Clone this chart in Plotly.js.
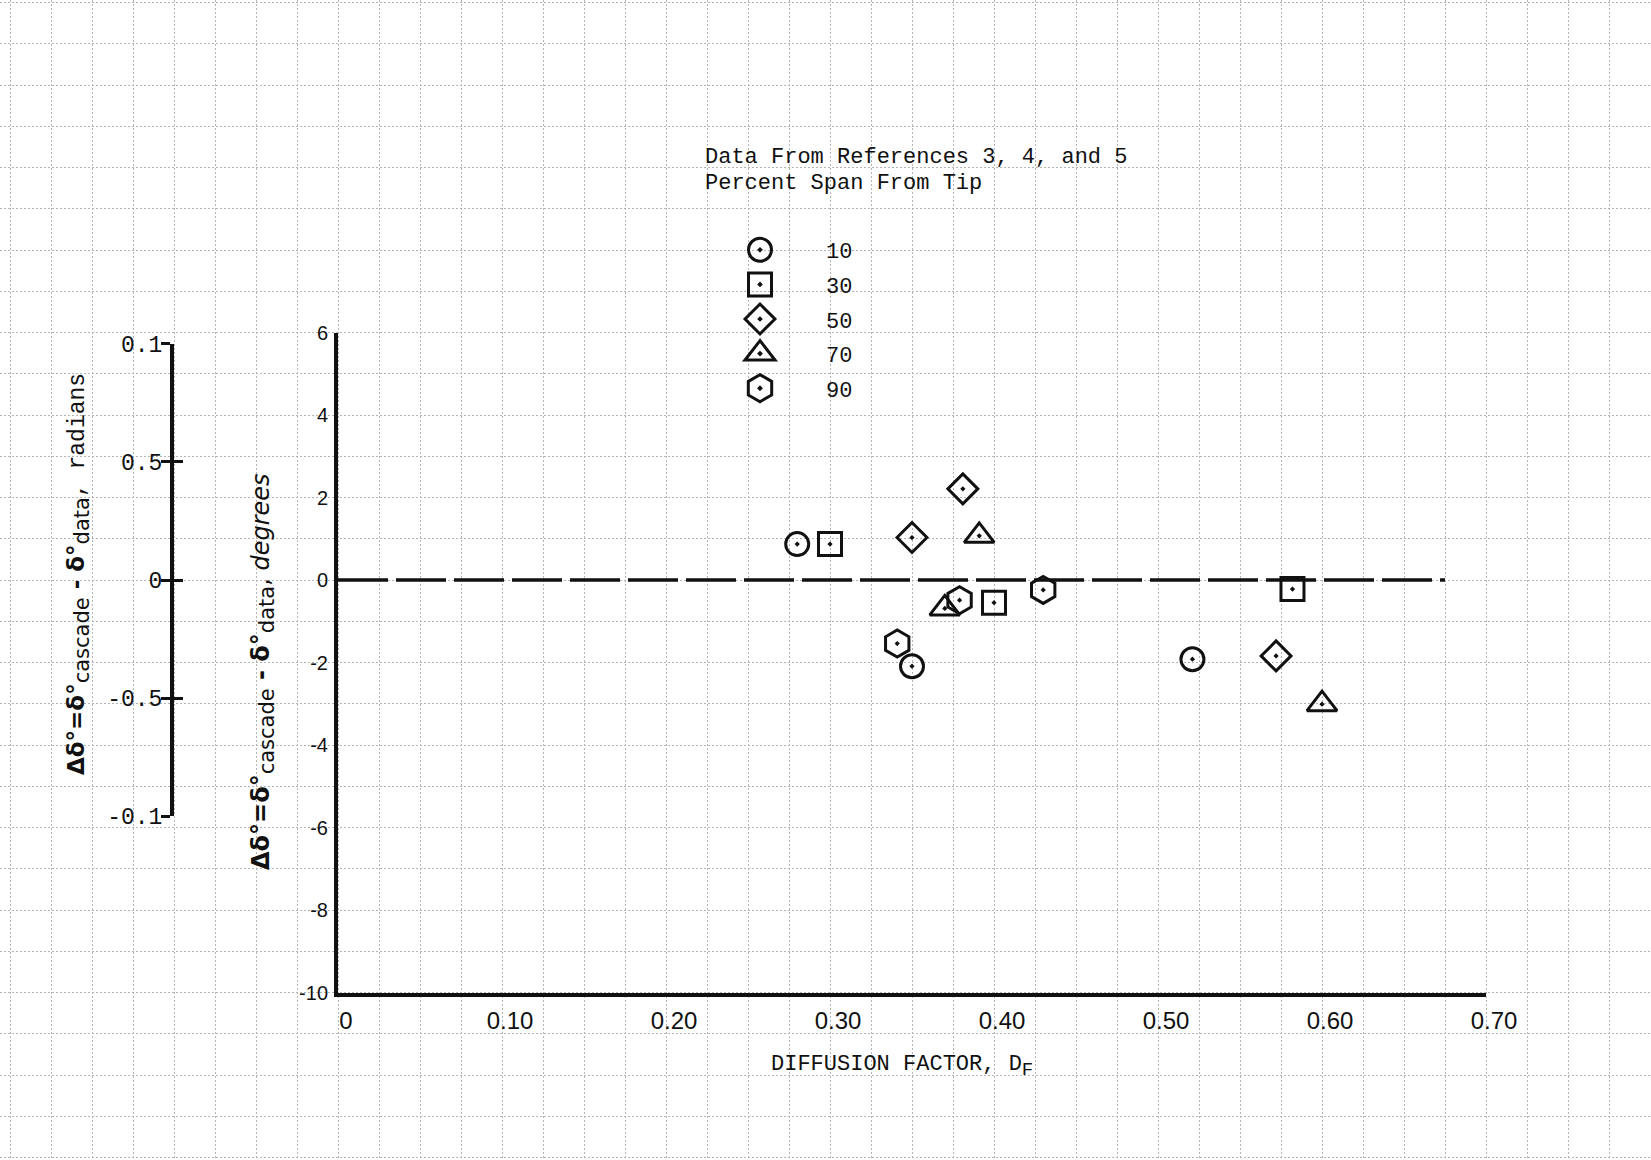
<!DOCTYPE html>
<html>
<head>
<meta charset="utf-8">
<script src="https://cdn.plot.ly/plotly-3.0.1.min.js"></script>
<style>
  html, body { margin: 0; padding: 0; background: #ffffff; }
  #chart { width: 1651px; height: 1160px; }
</style>
</head>
<body>
<div id="chart"></div>
<script>
// Deviation-angle difference (cascade minus measured) against diffusion factor,
// one marker series per radial station (percent span from tip).

const spanLabels  = ['10', '30', '50', '70', '90'];
const spanSymbols = ['circle-open-dot', 'square-open-dot', 'diamond-open-dot',
                     'triangle-up-open-dot', 'hexagon-open-dot'];

const diffusion10 = [0.280, 0.350, 0.521];
const deltaDeg10  = [0.87, -2.09, -1.92];

const diffusion30 = [0.300, 0.400, 0.582];
const deltaDeg30  = [0.87, -0.55, -0.22];

const diffusion50 = [0.350, 0.381, 0.572];
const deltaDeg50  = [1.03, 2.21, -1.84];

const diffusion70 = [0.391, 0.370, 0.600];
const deltaDeg70  = [1.07, -0.69, -3.01];

const diffusion90 = [0.379, 0.430, 0.341];
const deltaDeg90  = [-0.49, -0.24, -1.54];

// reference line at zero difference
const zeroLineX = [0, 0.675];
const zeroLineY = [0, 0];

// axis ticks
const xTickVals  = [0, 0.1, 0.2, 0.3, 0.4, 0.5, 0.6, 0.7];
const xTickText  = ['0', '0.10', '0.20', '0.30', '0.40', '0.50', '0.60', '0.70'];
const degTickVals = [-10, -8, -6, -4, -2, 0, 2, 4, 6];
const degTickText = ['-10', '-8', '-6', '-4', '-2', '0', '2', '4', '6'];
const radTickVals = [-0.1, -0.05, 0, 0.05, 0.1];
const radTickText = ['-0.1', '-0.5', '0', '0.5', '0.1'];

// ---------------------------------------------------------------------------
const W = 1651, H = 1160;
const px = v => v / W;            // horizontal pixel -> paper fraction
const py = v => 1 - v / H;        // vertical pixel (from top) -> paper fraction

// plot frame in pixels
const frameLeft = 338, frameRight = 1486, frameTop = 332.5, frameBottom = 992.5;
const xMax = 0.7, yMin = -10, yMax = 6;
const pxPerX = (frameRight - frameLeft) / xMax;
const pxPerY = (frameBottom - frameTop) / (yMax - yMin);
const zeroPx = frameTop + yMax * pxPerY;

// radians scale drawn beside the degrees scale
const radMax = 0.1, radToDeg = 180 / Math.PI;
const radTopPx = zeroPx - radMax * radToDeg * pxPerY;
const radBotPx = zeroPx + radMax * radToDeg * pxPerY;
const radAxisPx = 174;

const mono = 'Liberation Mono, DejaVu Sans Mono, monospace';
const sans = 'DejaVu Sans, Liberation Sans, sans-serif';

const seriesX = [diffusion10, diffusion30, diffusion50, diffusion70, diffusion90];
const seriesY = [deltaDeg10, deltaDeg30, deltaDeg50, deltaDeg70, deltaDeg90];
const markerSizes = [23, 23, 23, 26, 27];

const traces = [
  // graph-paper background subplot
  { x: [], y: [], type: 'scatter', mode: 'markers', xaxis: 'x', yaxis: 'y',
    showlegend: false, hoverinfo: 'skip' },
  // dashed zero line
  { x: zeroLineX, y: zeroLineY, type: 'scatter', mode: 'lines',
    xaxis: 'x2', yaxis: 'y2', showlegend: false, hoverinfo: 'skip',
    line: { color: '#111', width: 3.5, dash: '50px,8px' } }
];

spanLabels.forEach((lab, i) => {
  traces.push({
    x: seriesX[i], y: seriesY[i], type: 'scatter', mode: 'markers',
    xaxis: 'x2', yaxis: 'y2', name: lab, legendgroup: 'g' + lab,
    marker: { symbol: spanSymbols[i], size: markerSizes[i], color: '#111',
              line: { color: '#111', width: 3 } }
  });
});

// radians scale (two overlaid axes give ticks crossing the line)
traces.push({ x: [], y: [], type: 'scatter', xaxis: 'x3', yaxis: 'y3', showlegend: false, hoverinfo: 'skip' });
traces.push({ x: [], y: [], type: 'scatter', xaxis: 'x3', yaxis: 'y4', showlegend: false, hoverinfo: 'skip' });

const gridXRange = [-frameLeft / pxPerX, (W - frameLeft) / pxPerX];
const gridYRange = [(zeroPx - H) / pxPerY, zeroPx / pxPerY];

const sub = s => '<sub><span style="font-size:21px">' + s + '</span></sub>';
const titleDeg = '<b>Δδ°=δ°</b>' + sub('cascade') + '<b> - δ°</b>' + sub('data') +
                 ', <i>degrees</i>';
const titleRad = '<b>Δδ°=δ°</b>' + sub('cascade') + '<b> - δ°</b>' + sub('data') +
                 '<span style="font-family:Liberation Mono">, radians</span>';

const layout = {
  width: W, height: H, autosize: false,
  margin: { l: 0, r: 0, t: 0, b: 0, pad: 0 },
  paper_bgcolor: '#ffffff',
  plot_bgcolor: 'rgba(0,0,0,0)',
  showlegend: true,
  font: { family: sans, color: '#111' },

  // graph paper
  xaxis: { domain: [0, 1], range: gridXRange, tick0: 0, dtick: 0.025,
           showgrid: true, gridcolor: '#b4b4b4', gridwidth: 1, griddash: '2px,2px',
           zeroline: false, showline: false, ticks: '', showticklabels: false, anchor: 'y' },
  yaxis: { domain: [0, 1], range: gridYRange, tick0: 0, dtick: 1,
           showgrid: true, gridcolor: '#b4b4b4', gridwidth: 1, griddash: '2px,2px',
           zeroline: false, showline: false, ticks: '', showticklabels: false, anchor: 'x' },

  // data axes
  xaxis2: { domain: [px(frameLeft), px(frameRight)], range: [0, xMax], anchor: 'y2',
            showgrid: false, zeroline: false, showline: true, linecolor: '#111', linewidth: 4,
            ticks: '', tickvals: xTickVals, ticktext: xTickText, ticklabelshift: 8,
            ticklabelstandoff: 4,
            tickfont: { family: 'Liberation Sans Narrow, Liberation Sans, sans-serif', size: 24, color: '#111' } },
  yaxis2: { domain: [py(frameBottom), py(frameTop)], range: [yMin, yMax], anchor: 'x2',
            showgrid: false, zeroline: false, showline: true, linecolor: '#111', linewidth: 4,
            ticks: '', tickvals: degTickVals, ticktext: degTickText, ticklabelstandoff: 2,
            tickfont: { family: 'Liberation Sans, sans-serif', size: 20, color: '#111' } },

  // radians scale
  xaxis3: { domain: [px(radAxisPx), px(radAxisPx) + 0.03], anchor: 'y3', visible: false },
  yaxis3: { domain: [py(radBotPx), py(radTopPx)], range: [-radMax, radMax], anchor: 'x3',
            side: 'left', showgrid: false, zeroline: false, showline: true,
            linecolor: '#111', linewidth: 4, ticks: 'outside', ticklen: 9, tickwidth: 3,
            tickcolor: '#111', tickvals: radTickVals, ticktext: radTickText,
            ticklabelstandoff: -6,
            tickfont: { family: mono, size: 23, color: '#111' } },
  yaxis4: { overlaying: 'y3', anchor: 'x3', side: 'left', range: [-radMax, radMax],
            showgrid: false, zeroline: false, showline: false, ticks: 'inside',
            ticklen: 9, tickwidth: 3, tickcolor: '#111', tickvals: radTickVals,
            showticklabels: false },

  legend: { x: px(694), xanchor: 'left', y: py(229), yanchor: 'top',
            bgcolor: 'rgba(0,0,0,0)', borderwidth: 0, itemwidth: 122,
            tracegroupgap: 3, font: { family: mono, size: 22, color: '#111' } },

  annotations: [
    { text: 'Data From References 3, 4, and 5', xref: 'paper', yref: 'paper',
      x: px(703), y: py(157), xanchor: 'left', yanchor: 'middle', showarrow: false,
      font: { family: mono, size: 22, color: '#111' } },
    { text: 'Percent Span From Tip', xref: 'paper', yref: 'paper',
      x: px(703), y: py(183), xanchor: 'left', yanchor: 'middle', showarrow: false,
      font: { family: mono, size: 22, color: '#111' } },
    { text: 'DIFFUSION FACTOR, D<sub><span style="font-size:19px">F</span></sub>',
      xref: 'paper', yref: 'paper',
      x: px(769), y: py(1066), xanchor: 'left', yanchor: 'middle', showarrow: false,
      font: { family: mono, size: 22, color: '#111' } },
    { text: titleDeg, xref: 'paper', yref: 'paper', textangle: -90,
      x: px(263), y: py(672), xanchor: 'center', yanchor: 'middle', showarrow: false,
      font: { family: sans, size: 24, color: '#111' } },
    { text: titleRad, xref: 'paper', yref: 'paper', textangle: -90,
      x: px(79), y: py(574), xanchor: 'center', yanchor: 'middle', showarrow: false,
      font: { family: sans, size: 23, color: '#111' } }
  ]
};

Plotly.newPlot('chart', traces, layout, { staticPlot: true, displayModeBar: false })
  .then(gd => {
    // legend symbols are capped in size; scale each back to its trace's marker size
    gd.querySelectorAll('.legend .traces').forEach((item, i) => {
      const factor = (markerSizes[i] || 16) / 16;
      item.querySelectorAll('.legendpoints path.scatterpts').forEach(p => {
        const t = p.getAttribute('transform') || '';
        p.setAttribute('transform', t + ' scale(' + factor + ')');
        p.style.vectorEffect = 'non-scaling-stroke';
      });
    });
  });
</script>
</body>
</html>
